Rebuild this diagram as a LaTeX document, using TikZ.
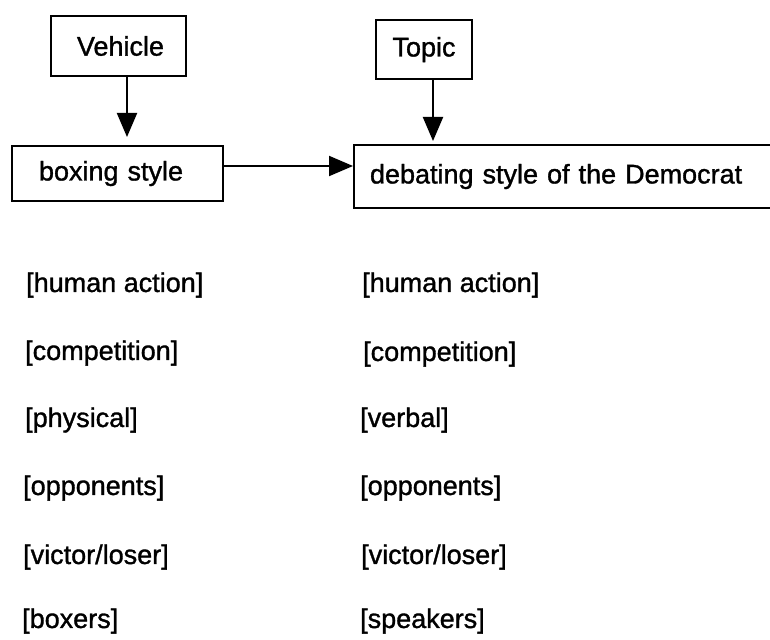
\documentclass[tikz,border=0pt]{standalone}
\usepackage{fontspec}
\setmainfont[FakeBold=1.2,AutoFakeBold=0]{Liberation Sans}
\usetikzlibrary{arrows.meta}
\begin{document}
\begin{tikzpicture}[x=1pt,y=-1pt,
  font=\fontsize{27}{32}\selectfont,
  box/.style={draw, line width=2pt, inner sep=0pt},
  lbl/.style={anchor=west, inner sep=0pt},
  arr/.style={line width=2pt, -{Triangle[length=24pt,width=20pt]}}]
\useasboundingbox (0,0) rectangle (770,639);
\clip (0,0) rectangle (770,639);
% boxes
\node[box, minimum width=135, minimum height=60] (veh) at (118.5,46) {\hspace*{4pt}Vehicle};
\node[box, minimum width=96, minimum height=59] (top) at (424,49.5) {Topic};
\node[box, text width=157, align=left, inner xsep=27, minimum height=55] (boxs) at (117.5,173.5) {boxing style};
\node[box, text width=394, align=left, inner xsep=16, minimum height=63] (deb) at (567,176.5) {debating style of the Democrat};
% connectors
\draw[arr, shorten >=8pt] ([xshift=8.5pt]veh.south) -- ([xshift=8.5pt]veh.south |- boxs.north);
\draw[arr, shorten >=3pt] ([xshift=9pt]top.south) -- ([xshift=9pt]top.south |- deb.north);
\draw[arr] ([yshift=7.5pt]boxs.east) -- ([yshift=7.5pt]boxs.east -| deb.west);
% left column
\node[lbl] (l1) at (26,285) {[human action]};
\node[lbl] (l2) at (25,353) {[competition]};
\node[lbl] (l3) at (25,420) {[physical]};
\node[lbl] (l4) at (23,488) {[opponents]};
\node[lbl] (l5) at (23,557) {[victor/loser]};
\node[lbl] (l6) at (22,621) {[boxers]};
% right column
\node[lbl] (r1) at (362,285) {[human action]};
\node[lbl] (r2) at (363,354) {[competition]};
\node[lbl] (r3) at (360,420) {[verbal]};
\node[lbl] (r4) at (360,488) {[opponents]};
\node[lbl] (r5) at (361,557) {[victor/loser]};
\node[lbl] (r6) at (360,621) {[speakers]};
\end{tikzpicture}
\end{document}
